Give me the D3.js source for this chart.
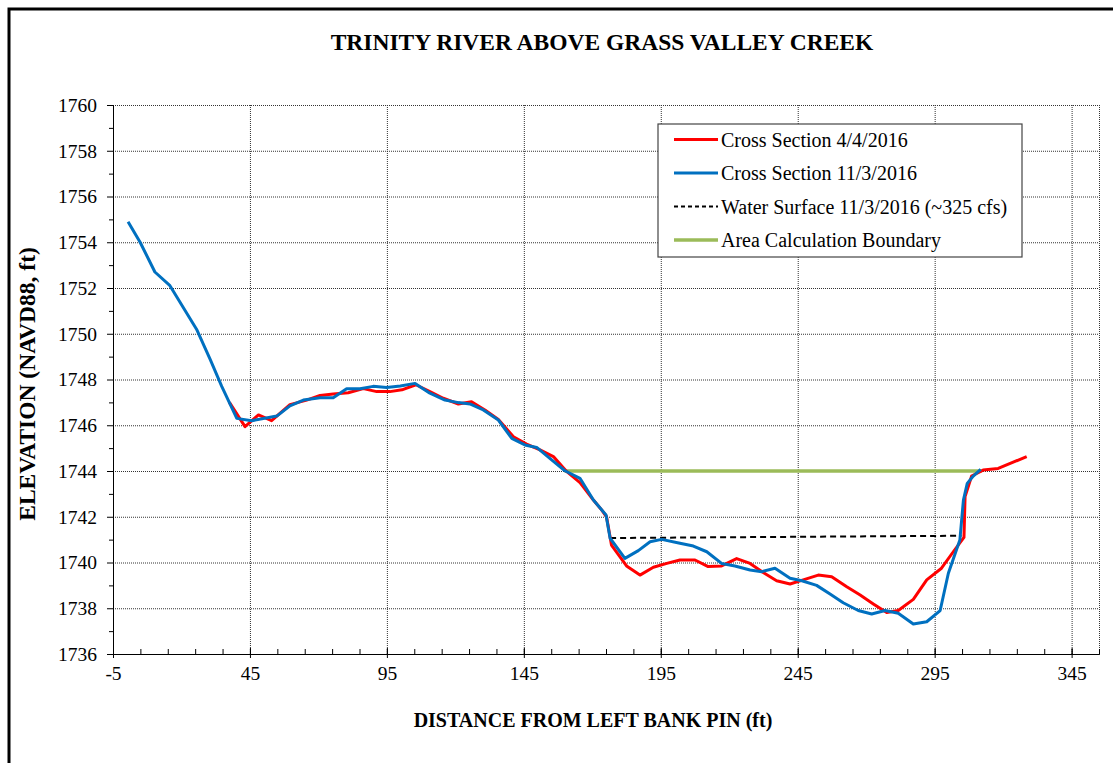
<!DOCTYPE html>
<html>
<head>
<meta charset="utf-8">
<script src="https://cdn.jsdelivr.net/npm/d3@7"></script>
<style>
    body { margin: 0; background: #fff; }
    svg text { font-family: 'Liberation Serif', 'Times New Roman', Times, serif; fill: #000; }
    .grid line { stroke: #333; stroke-dasharray: 1,1; }
    .grid path { display: none; }
    .axis path, .axis line { stroke: #000; }
</style>
</head>
<body>
<div id="chart"></div>
<script>
(function(){

// cross section 4/4/2016
var distRed = [37.5, 43.2, 48.1, 52.9, 59.6, 65.7, 70.6, 75.4, 80.9, 86.4, 91.3, 96.1, 100.5, 105.6,
    110.7, 115.6, 121.1, 125.9, 130.8, 135.7, 141.2, 146.0, 150.9, 155.8, 160.7, 165.5, 170.4, 173.4,
    175.2, 177.0, 182.5, 187.4, 192.3, 197.2, 202.0, 207.5, 212.3, 217.2, 222.7, 227.6, 232.4, 237.3,
    242.2, 247.0, 252.5, 257.4, 262.9, 267.8, 272.6, 277.5, 281.7, 287.2, 292.1, 297.5, 301.8, 305.7,
    306.1, 308.5, 312.7, 318.2, 328.6];
var elevRed = [1747.0, 1745.94, 1746.45, 1746.2, 1746.9, 1747.1, 1747.3, 1747.37, 1747.42, 1747.6, 1747.47, 1747.47, 1747.55, 1747.77,
    1747.47, 1747.18, 1746.93, 1747.03, 1746.67, 1746.25, 1745.5, 1745.18, 1744.92, 1744.63, 1743.97, 1743.49, 1742.73, 1742.3,
    1742.0, 1740.76, 1739.85, 1739.45, 1739.79, 1739.96, 1740.11, 1740.11, 1739.82, 1739.85, 1740.17, 1739.96, 1739.56, 1739.2,
    1739.06, 1739.24, 1739.45, 1739.38, 1738.94, 1738.58, 1738.19, 1737.81, 1737.9, 1738.39, 1739.24, 1739.75, 1740.47, 1741.1,
    1742.88, 1743.78, 1744.04, 1744.11, 1744.63];

// cross section 11/3/2016
var distBlue = [0.5, 4.9, 10.3, 15.8, 25.5, 30.4, 34.7, 40.2, 45.6, 54.8, 59.6, 64.5, 70.6, 75.4, 80.3,
    85.2, 90.0, 94.9, 99.9, 105.3, 110.7, 116.2, 121.1, 125.3, 130.2, 135.7, 140.6, 145.4, 149.7, 154.5,
    160.0, 165.5, 170.4, 175.0, 176.5, 181.9, 186.8, 191.1, 195.3, 202.0, 206.9, 211.8, 217.2, 222.1,
    227.6, 231.9, 236.7, 242.2, 246.5, 251.9, 256.8, 261.6, 267.1, 272.0, 276.9, 281.7, 287.2, 292.1,
    297.0, 300.0, 304.2, 305.5, 306.9, 309.1, 311.8];
var elevBlue = [1754.9, 1754.0, 1752.7, 1752.1, 1750.2, 1748.9, 1747.7, 1746.3, 1746.2, 1746.4, 1746.85, 1747.1, 1747.2, 1747.2, 1747.6,
    1747.6, 1747.7, 1747.65, 1747.72, 1747.83, 1747.4, 1747.1, 1746.99, 1746.93, 1746.67, 1746.23, 1745.43, 1745.14, 1745.03, 1744.55,
    1744.01, 1743.68, 1742.73, 1742.08, 1741.06, 1740.18, 1740.52, 1740.91, 1741.01, 1740.84, 1740.72, 1740.47, 1739.96, 1739.85,
    1739.67, 1739.6, 1739.75, 1739.31, 1739.2, 1739.0, 1738.62, 1738.24, 1737.9, 1737.75, 1737.9, 1737.78, 1737.31, 1737.41,
    1737.9, 1739.53, 1740.98, 1742.73, 1743.46, 1743.78, 1744.07];

// water surface 11/3/2016 and area boundary
var distWater = [176.5, 304.8];
var elevWater = [1741.07, 1741.17];
var distBoundary = [159.8, 312.1];
var elevBoundary = [1744.0, 1744.0];

var xTicks = [-5, 45, 95, 145, 195, 245, 295, 345];
var yTicks = [1736, 1738, 1740, 1742, 1744, 1746, 1748, 1750, 1752, 1754, 1756, 1758, 1760];

var legendLabels = ["Cross Section 4/4/2016", "Cross Section 11/3/2016",
    "Water Surface 11/3/2016 (~325 cfs)", "Area Calculation Boundary"];

var serif = "'Liberation Serif', 'Times New Roman', Times, serif";

window.onload = setChart;

function setChart(){

    var width = 1113, height = 763;
    var left = 113, right = 1099, top = 105, bottom = 654;

    var svg = d3.select("#chart")
        .append("svg")
        .attr("width", width)
        .attr("height", height)
        .attr("font-family", serif);

    //outer frame
    svg.append("rect")
        .attr("x", 9).attr("y", 9)
        .attr("width", width + 20).attr("height", height + 20)
        .attr("fill", "none")
        .attr("stroke", "#000")
        .attr("stroke-width", 3);

    var x = d3.scaleLinear().domain([-5, 355]).range([left, right]);
    var y = d3.scaleLinear().domain([1736, 1760]).range([bottom, top]);

    //gridlines
    svg.append("g")
        .attr("class", "grid")
        .attr("transform", "translate(0," + bottom + ")")
        .call(d3.axisBottom(x).tickValues(xTicks.slice(1).concat([355])).tickSize(-(bottom - top)).tickFormat(""));
    svg.append("g")
        .attr("class", "grid")
        .attr("transform", "translate(" + left + ",0)")
        .call(d3.axisLeft(y).tickValues(yTicks.slice(1)).tickSize(-(right - left)).tickFormat(""));

    //minor ticks
    svg.append("g")
        .attr("class", "axis")
        .attr("transform", "translate(0," + bottom + ")")
        .call(d3.axisBottom(x).tickValues(d3.range(5, 355, 10)).tickSize(-5).tickFormat(""));
    svg.append("g")
        .attr("class", "axis")
        .attr("transform", "translate(" + left + ",0)")
        .call(d3.axisLeft(y).tickValues(d3.range(1737, 1760, 2)).tickSize(4).tickFormat(""));

    //main axes
    var xAxis = svg.append("g")
        .attr("class", "axis")
        .attr("transform", "translate(0," + bottom + ")")
        .call(d3.axisBottom(x).tickValues(xTicks).tickSize(4).tickPadding(8).tickSizeOuter(0)
            .tickFormat(function(d){ return String(d); }));
    xAxis.selectAll(".tick line").attr("y1", -6);

    svg.append("g")
        .attr("class", "axis")
        .attr("transform", "translate(" + left + ",0)")
        .call(d3.axisLeft(y).tickValues(yTicks).tickSize(6).tickPadding(10).tickSizeOuter(0)
            .tickFormat(function(d){ return String(d); }));

    svg.selectAll(".axis").attr("font-family", serif).attr("font-size", 19.5);

    var line = d3.line()
        .x(function(d){ return x(d[0]); })
        .y(function(d){ return y(d[1]); });

    function pairs(xs, ys){ return xs.map(function(v, i){ return [v, ys[i]]; }); }

    svg.append("path")
        .datum(pairs(distBoundary, elevBoundary))
        .attr("d", line)
        .attr("fill", "none")
        .attr("stroke", "#9BBB59")
        .attr("stroke-width", 3.5);

    svg.append("path")
        .datum(pairs(distWater, elevWater))
        .attr("d", line)
        .attr("fill", "none")
        .attr("stroke", "#000")
        .attr("stroke-width", 2)
        .attr("stroke-dasharray", "6,4");

    svg.append("path")
        .datum(pairs(distRed, elevRed))
        .attr("d", line)
        .attr("fill", "none")
        .attr("stroke", "#FF0000")
        .attr("stroke-width", 3)
        .attr("stroke-linejoin", "round");

    svg.append("path")
        .datum(pairs(distBlue, elevBlue))
        .attr("d", line)
        .attr("fill", "none")
        .attr("stroke", "#0070C0")
        .attr("stroke-width", 3)
        .attr("stroke-linejoin", "round");

    //titles
    svg.append("text")
        .attr("x", 602).attr("y", 50)
        .attr("text-anchor", "middle")
        .attr("font-size", 23.5)
        .attr("font-weight", "bold")
        .text("TRINITY RIVER ABOVE GRASS VALLEY CREEK");

    svg.append("text")
        .attr("x", 593).attr("y", 727)
        .attr("text-anchor", "middle")
        .attr("font-size", 20)
        .attr("font-weight", "bold")
        .text("DISTANCE FROM LEFT BANK PIN (ft)");

    svg.append("text")
        .attr("transform", "translate(35,384) rotate(-90)")
        .attr("text-anchor", "middle")
        .attr("font-size", 23.5)
        .attr("font-weight", "bold")
        .text("ELEVATION (NAVD88, ft)");

    setLegend(svg);
};

function setLegend(svg){

    var legend = svg.append("g").attr("transform", "translate(658,124)");

    legend.append("rect")
        .attr("width", 364).attr("height", 133)
        .attr("fill", "#fff")
        .attr("stroke", "#444")
        .attr("stroke-width", 1.2);

    var styles = [
        { color: "#FF0000", width: 3, dash: null },
        { color: "#0070C0", width: 3, dash: null },
        { color: "#000", width: 2, dash: "4,3" },
        { color: "#9BBB59", width: 3.5, dash: null }
    ];

    var rows = legend.selectAll(".legendRow")
        .data(legendLabels)
        .enter()
        .append("g")
        .attr("class", "legendRow")
        .attr("transform", function(d, i){ return "translate(0," + (15.5 + i * 33.5) + ")"; });

    rows.append("line")
        .attr("x1", 16).attr("x2", 60)
        .attr("stroke", function(d, i){ return styles[i].color; })
        .attr("stroke-width", function(d, i){ return styles[i].width; })
        .attr("stroke-dasharray", function(d, i){ return styles[i].dash; });

    rows.append("text")
        .attr("x", 63).attr("y", 7)
        .attr("font-size", 20)
        .text(function(d){ return d; });
};

})();
</script>
</body>
</html>
